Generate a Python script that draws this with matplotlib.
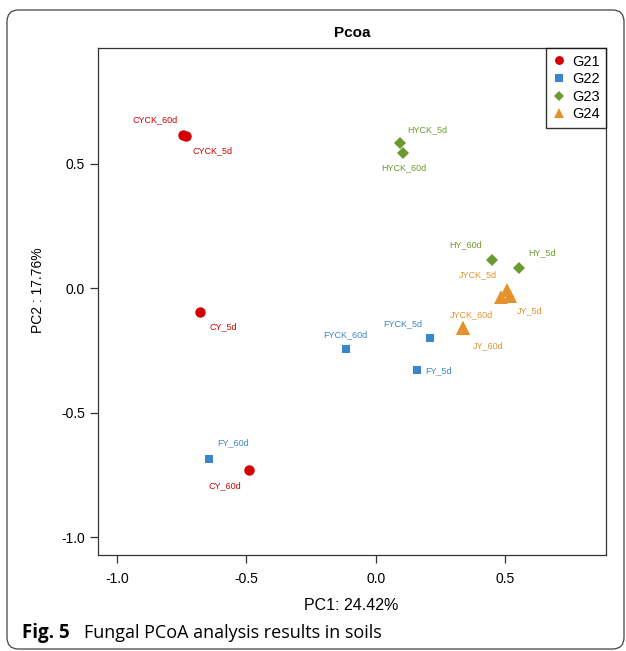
import matplotlib
matplotlib.use("Agg")
import matplotlib.pyplot as plt
from matplotlib.patches import FancyBboxPatch
from matplotlib.lines import Line2D

plt.rcParams['font.family'] = ['Liberation Sans', 'DejaVu Sans']
plt.rcParams['axes.unicode_minus'] = False

# ---- data ----
groups = ["G21", "G22", "G23", "G24"]
colors = ["#D40000", "#3A86CC", "#6B9B2E", "#E3922E"]
markers = ["o", "s", "D", "^"]
msizes = [7.5, 6.0, 6.0, 9.5]

g21_names = ["CYCK_60d", "CYCK_5d", "CY_5d", "CY_60d"]
g21_x = [-0.743, -0.733, -0.679, -0.490]
g21_y = [0.618, 0.612, -0.095, -0.731]

g22_names = ["FYCK_60d", "FYCK_5d", "FY_5d", "FY_60d"]
g22_x = [-0.116, 0.210, 0.158, -0.644]
g22_y = [-0.245, -0.201, -0.329, -0.686]

g23_names = ["HYCK_5d", "HYCK_60d", "HY_60d", "HY_5d"]
g23_x = [0.094, 0.107, 0.448, 0.554]
g23_y = [0.583, 0.545, 0.114, 0.080]

g24_names = ["JYCK_5d", "JY_5d", "", "JYCK_60d", "JY_60d"]
g24_x = [0.506, 0.519, 0.483, 0.339, 0.339]
g24_y = [-0.007, -0.030, -0.034, -0.161, -0.161]

# label offsets in pixels (dx right, dy down)
g21_off = [(-28, -15), (26, 15), (23, 15), (-24, 16)]
g22_off = [(0, -15), (-27, -15), (22, 1), (24, -16)]
g23_off = [(27, -14), (0, 15), (-26, -15), (23, -16)]
g24_off = [(-29, -15), (20, 15), (0, 0), (8, -14), (25, 17)]

series = [
    (g21_names, g21_x, g21_y, g21_off),
    (g22_names, g22_x, g22_y, g22_off),
    (g23_names, g23_x, g23_y, g23_off),
    (g24_names, g24_x, g24_y, g24_off),
]

xticks = [-1.0, -0.5, 0.0, 0.5]
yticks = [-1.0, -0.5, 0.0, 0.5]

W, H = 626, 651
fig = plt.figure(figsize=(W / 100, H / 100), dpi=100)
fig.patch.set_facecolor("white")

# outer rounded frame
frame = FancyBboxPatch((7 / W, 1 - 649 / H), (624 - 7) / W, (649 - 10) / H,
                       boxstyle="round,pad=0,rounding_size=0.018",
                       transform=fig.transFigure, fill=False,
                       edgecolor="#444444", linewidth=0.9, zorder=0)
fig.add_artist(frame)

ax = fig.add_axes([98 / W, 1 - 555 / H, (606 - 98) / W, (555 - 48) / H])

for (names, xs, ys, offs), c, m, ms in zip(series, colors, markers, msizes):
    ax.plot(xs, ys, linestyle="none", marker=m, color=c, markersize=ms,
            markeredgewidth=0, zorder=3)
    for n, x, y, (dx, dy) in zip(names, xs, ys, offs):
        if n:
            ax.annotate(n, (x, y), xytext=(dx * 0.72, -dy * 0.72),
                        textcoords="offset points", ha="center", va="center",
                        fontsize=6.5, color=c, zorder=4)

ax.set_xlim(-1.0734, 0.890)
ax.set_ylim(-1.072, 0.966)
ax.set_xticks(xticks)
ax.set_yticks(yticks)
ax.set_xticklabels([f"{v:.1f}" for v in xticks])
ax.set_yticklabels([f"{v:.1f}" for v in yticks])
ax.tick_params(direction="out", length=5.5, width=0.9, colors="#333333",
               labelcolor="black", labelsize=10, pad=4)
ax.tick_params(axis="x", pad=7)
for s in ax.spines.values():
    s.set_linewidth(0.9)
    s.set_color("#333333")

handles = [Line2D([], [], linestyle="none", marker=m, color=c,
                  markersize=ms * 0.85, markeredgewidth=0)
           for c, m, ms in zip(colors, markers, [7.5, 6.0, 6.5, 9.0])]
leg = ax.legend(handles, groups, loc="upper right", borderaxespad=0,
                fontsize=10.5, frameon=True, fancybox=False,
                edgecolor="black", handlelength=0.8, handletextpad=0.5,
                labelspacing=0.25, borderpad=0.45)
leg.get_frame().set_linewidth(1.0)

fig.text(352 / W, 1 - 33 / H, "Pcoa", ha="center", va="center",
         fontsize=11, fontweight="bold")
fig.text(351 / W, 1 - 605 / H, "PC1: 24.42%", ha="center", va="center",
         fontsize=11.5)
fig.text(38 / W, 1 - 290 / H, "PC2 : 17.76%", ha="center", va="center",
         rotation=90, fontsize=10)

fig.text(22 / W, 1 - 633 / H, "Fig. 5", ha="left", va="center",
         fontsize=13.5, fontweight="bold", family=["Open Sans", "DejaVu Sans"])
fig.text(84 / W, 1 - 633 / H, "Fungal PCoA analysis results in soils",
         ha="left", va="center", fontsize=13,
         family=["Open Sans", "DejaVu Sans"])

fig.savefig("out.png", dpi=100)
